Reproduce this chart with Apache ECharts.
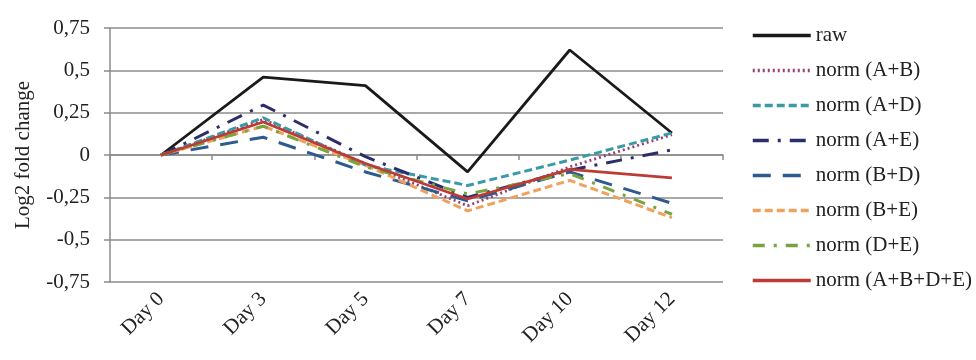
<!DOCTYPE html>
<html>
<head>
<meta charset="utf-8">
<script src="https://cdn.jsdelivr.net/npm/echarts@6/dist/echarts.min.js"></script>
<style>html,body{margin:0;padding:0;background:#fff;}#c{width:976px;height:360px;}</style>
</head>
<body>
<div id="c"></div>
<script>
var categories = ['Day 0', 'Day 3', 'Day 5', 'Day 7', 'Day 10', 'Day 12'];
var raw      = [0, 0.46, 0.41, -0.10, 0.62, 0.13];
var normAB   = [0, 0.21, -0.05, -0.30, -0.07, 0.12];
var normAD   = [0, 0.22, -0.06, -0.18, -0.03, 0.13];
var normAE   = [0, 0.295, -0.01, -0.25, -0.09, 0.03];
var normBD   = [0, 0.105, -0.10, -0.27, -0.10, -0.285];
var normBE   = [0, 0.17, -0.06, -0.33, -0.15, -0.37];
var normDE   = [0, 0.17, -0.07, -0.23, -0.11, -0.35];
var normABDE = [0, 0.195, -0.05, -0.26, -0.085, -0.135];
var yTicks = [-0.75, -0.5, -0.25, 0, 0.25, 0.5, 0.75];

var FONT = '"Liberation Serif", "DejaVu Serif", serif';
var chart = echarts.init(document.getElementById('c'), null, {renderer: 'canvas'});

function mk(name, data, color, type, width) {
  return {
    name: name, type: 'line', data: data, symbol: 'none', showSymbol: false, smooth: false,
    xAxisIndex: 0, yAxisIndex: 0,
    lineStyle: {color: color, width: width || 2.5, type: type, cap: 'butt'},
    itemStyle: {color: color},
    emphasis: {disabled: true},
    animation: false
  };
}

var option = {
  animation: false,
  grid: {left: 110, right: 253, top: 28, bottom: 78},
  legend: {
    orient: 'vertical', left: 746, top: 20,
    itemWidth: 58, itemHeight: 14, itemGap: 14,
    itemStyle: {opacity: 0},
    lineStyle: {width: 3.5},
    textStyle: {fontFamily: FONT, fontSize: 21, color: '#222'},
    data: ['raw', 'norm (A+B)', 'norm (A+D)', 'norm (A+E)', 'norm (B+D)', 'norm (B+E)', 'norm (D+E)', 'norm (A+B+D+E)']
  },
  xAxis: [{
    type: 'category', data: categories, boundaryGap: true,
    axisLine: {onZero: true, lineStyle: {color: '#8c8c8c', width: 1.5}},
    axisTick: {show: true, length: 5, lineStyle: {color: '#8c8c8c', width: 1.5}},
    axisLabel: {show: false}, splitLine: {show: false}
  }, {
    type: 'category', data: categories, boundaryGap: true, position: 'bottom',
    axisLine: {show: false, onZero: false}, axisTick: {show: false},
    axisLabel: {rotate: 45, margin: 14, fontFamily: FONT, fontSize: 21, color: '#222'},
    splitLine: {show: false}
  }],
  yAxis: {
    type: 'value', min: yTicks[0], max: yTicks[yTicks.length - 1], interval: 0.25,
    name: 'Log2 fold change', nameLocation: 'middle', nameGap: 76, nameRotate: 90,
    nameTextStyle: {fontFamily: FONT, fontSize: 21, color: '#222'},
    axisLine: {show: true, lineStyle: {color: '#8c8c8c', width: 1.5}},
    axisTick: {show: true, length: 6, lineStyle: {color: '#8c8c8c', width: 1.5}},
    axisLabel: {margin: 20, fontFamily: FONT, fontSize: 21, color: '#222',
      formatter: function (v) { return String(v).replace('.', ','); }},
    splitLine: {show: true, lineStyle: {color: '#8c8c8c', width: 1.5}}
  },
  series: [
    mk('raw', raw, '#1a1a1a', 'solid', 2.8),
    mk('norm (A+B)', normAB, '#9B3F6E', [2, 3], 2.8),
    mk('norm (A+D)', normAD, '#3A9BA8', [8, 4], 3),
    mk('norm (A+E)', normAE, '#2B2E6B', [16, 9, 3, 9], 3),
    mk('norm (B+D)', normBD, '#2D5B8E', [18, 12], 3),
    mk('norm (B+E)', normBE, '#EFA25E', [8, 4], 3),
    mk('norm (D+E)', normDE, '#78A33E', [12, 9, 3, 9], 3),
    mk('norm (A+B+D+E)', normABDE, '#BD3B35', 'solid', 2.8)
  ]
};
chart.setOption(option);
</script>
</body>
</html>
